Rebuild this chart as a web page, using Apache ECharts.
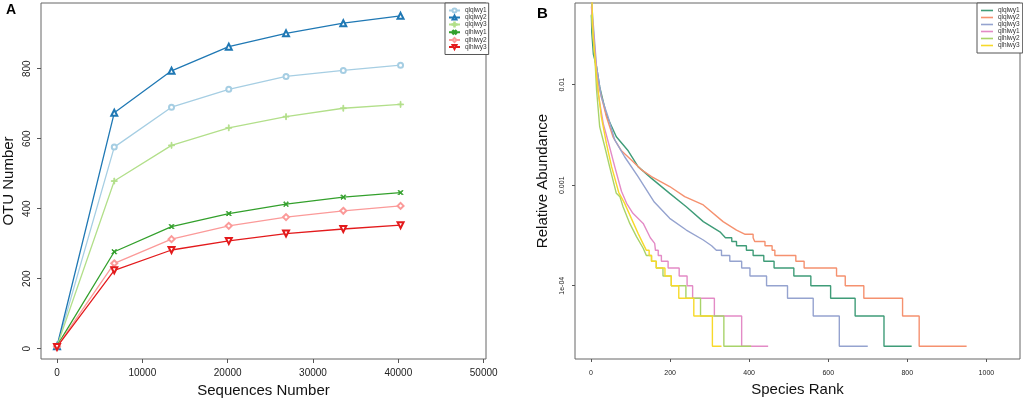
<!DOCTYPE html>
<html>
<head>
<meta charset="utf-8">
<script src="https://cdn.jsdelivr.net/npm/echarts@6/dist/echarts.min.js"></script>
<style>
  html, body { margin: 0; padding: 0; background: #fff; }
  #chart { width: 1023px; height: 399px; }
</style>
</head>
<body>
<div id="chart"></div>
<script>
// ---- panel A: rarefaction curves ----
const sampleNames = ['qlqlwy1', 'qlqlwy2', 'qlqlwy3', 'qlhlwy1', 'qlhlwy2', 'qlhlwy3'];
const seqDepth = [0, 6710, 13420, 20130, 26840, 33550, 40260];
const otuQlqlwy1 = [6, 576, 690, 741, 778, 795, 810];
const otuQlqlwy2 = [7, 674, 794, 863, 901, 930, 951];
const otuQlqlwy3 = [7, 479, 581, 631, 663, 687, 698];
const otuQlhlwy1 = [8, 277, 349, 386, 413, 433, 446];
const otuQlhlwy2 = [6, 244, 313, 351, 376, 394, 408];
const otuQlhlwy3 = [5, 224, 282, 308, 329, 342, 353];
const seqTicks = [0, 10000, 20000, 30000, 40000, 50000];
const otuTicks = [0, 200, 400, 600, 800];

// ---- panel B: rank abundance (smooth head, then [start rank, level] steps; last pair = end) ----
const headQlqlwy1 = [[1, 0.049], [2, 0.033], [6, 0.02], [14, 0.0151], [22, 0.0095], [39, 0.005], [64, 0.00304], [94, 0.0022], [119, 0.00153], [153, 0.00117], [199, 0.00083], [241, 0.00061], [284, 0.000434], [326, 0.000344]];
const stepsQlqlwy1 = [[340, 3e-4], [356, 2.75e-4], [368, 2.5e-4], [393, 2.25e-4], [410, 2e-4], [437, 1.75e-4], [463, 1.5e-4], [513, 1.25e-4], [556, 1e-4], [606, 7.5e-5], [668, 5e-5], [741, 2.5e-5], [811, 2.5e-5]];
const headQlqlwy2 = [[1, 0.09], [3, 0.04], [14, 0.013], [22, 0.0089], [39, 0.0048], [56, 0.003], [77, 0.0022], [102, 0.00178], [128, 0.00142], [153, 0.00122], [199, 0.00097], [237, 0.00077], [284, 0.000636], [334, 0.000434], [368, 0.000358]];
const stepsQlqlwy2 = [[390, 3.25e-4], [410, 3e-4], [414, 2.75e-4], [440, 2.5e-4], [458, 2.25e-4], [465, 2e-4], [518, 1.75e-4], [539, 1.5e-4], [621, 1.25e-4], [643, 1e-4], [690, 7.5e-5], [788, 5e-5], [830, 2.5e-5], [950, 2.5e-5]];
const headQlqlwy3 = [[1, 0.07], [14, 0.0151], [26, 0.0076], [43, 0.0048], [60, 0.00282], [85, 0.00192], [119, 0.00122], [160, 0.00068], [199, 0.000468], [241, 0.000358], [284, 0.000285], [305, 0.00025]];
const stepsQlqlwy3 = [[317, 2.25e-4], [330, 2e-4], [351, 1.75e-4], [381, 1.5e-4], [402, 1.25e-4], [444, 1e-4], [497, 7.5e-5], [562, 5e-5], [628, 2.5e-5], [700, 2.5e-5]];
const headQlhlwy1 = [[1, 0.06], [14, 0.0135], [18, 0.0082], [31, 0.0041], [47, 0.0024], [60, 0.00153], [77, 0.00087], [90, 0.00066], [106, 0.000525], [132, 0.000417], [150, 0.0003], [161, 0.000264]];
const stepsQlhlwy1 = [[163, 2.25e-4], [170, 2e-4], [178, 1.75e-4], [195, 1.5e-4], [223, 1.25e-4], [243, 1e-4], [257, 7.5e-5], [312, 5e-5], [381, 2.5e-5], [448, 2.5e-5]];
const headQlhlwy2 = [[1, 0.05], [11, 0.0151], [14, 0.0089], [22, 0.0038], [35, 0.0024], [47, 0.00153], [64, 0.00083], [73, 0.00077], [81, 0.00061], [98, 0.000417], [115, 0.000308], [132, 0.000236]];
const stepsQlhlwy2 = [[140, 2e-4], [153, 1.75e-4], [165, 1.5e-4], [182, 1.25e-4], [203, 1e-4], [240, 7.5e-5], [277, 5e-5], [336, 2.5e-5], [405, 2.5e-5]];
const headQlhlwy3 = [[1, 0.1], [5, 0.032], [14, 0.012], [26, 0.0048], [39, 0.0026], [52, 0.00153], [70, 0.00085], [85, 0.00066], [102, 0.000468], [119, 0.000332], [130, 0.00027]];
const stepsQlhlwy3 = [[140, 2.25e-4], [147, 2e-4], [153, 1.75e-4], [165, 1.5e-4], [187, 1.25e-4], [203, 1e-4], [222, 7.5e-5], [260, 5e-5], [307, 2.5e-5], [330, 2.5e-5]];
const rankTicks = [0, 200, 400, 600, 800, 1000];
const abundTicks = [0.0001, 0.001, 0.01];
const abundTickLabels = ['1e-04', '0.001', '0.01'];

const FONT = 'Liberation Sans, Arial, Helvetica, sans-serif';
const pairedColors = ['#A6CEE3', '#1F78B4', '#B2DF8A', '#33A02C', '#FB9A99', '#E31A1C'];
const set2Colors = ['#3f9c78', '#f5916f', '#95a3cf', '#e38bc6', '#a8d36a', '#f7d92a'];
const plusPath = 'path://M0,4.3h10v1.4h-10zM4.3,0h1.4v10h-1.4z';
const symbols = ['emptyCircle', 'emptyTriangle', plusPath, plusPath, 'emptyDiamond', 'emptyTriangle'];
const symbolRot = [0, 0, 0, 45, 0, 180];
const symbolSizes = [5, 6, 6, 6, 6, 6];

function rankCurve(head, steps) {
  const pts = head.slice();
  for (let i = 0; i < steps.length - 1; i++) {
    pts.push([steps[i][0], steps[i][1]]);
    pts.push([steps[i + 1][0], steps[i][1]]);
  }
  return pts;
}

const otuLists = [otuQlqlwy1, otuQlqlwy2, otuQlqlwy3, otuQlhlwy1, otuQlhlwy2, otuQlhlwy3];
const rankLists = [
  rankCurve(headQlqlwy1, stepsQlqlwy1),
  rankCurve(headQlqlwy2, stepsQlqlwy2),
  rankCurve(headQlqlwy3, stepsQlqlwy3),
  rankCurve(headQlhlwy1, stepsQlhlwy1),
  rankCurve(headQlhlwy2, stepsQlhlwy2),
  rankCurve(headQlhlwy3, stepsQlhlwy3)
];

const seriesA = sampleNames.map((name, i) => ({
  name: name,
  type: 'line',
  xAxisIndex: 0,
  yAxisIndex: 0,
  data: seqDepth.map((d, j) => [d, otuLists[i][j]]),
  symbol: symbols[i],
  symbolRotate: symbolRot[i],
  symbolSize: symbolSizes[i],
  showSymbol: true,
  lineStyle: { color: pairedColors[i], width: 1.3 },
  itemStyle: { color: pairedColors[i], borderColor: pairedColors[i], borderWidth: 0.9 },
  emphasis: { disabled: true },
  animation: false
}));

const seriesB = sampleNames.map((name, i) => ({
  name: 'B-' + name,
  type: 'line',
  xAxisIndex: 1,
  yAxisIndex: 1,
  data: rankLists[i],
  symbol: 'none',
  lineStyle: { color: set2Colors[i], width: 1.4 },
  itemStyle: { color: set2Colors[i] },
  emphasis: { disabled: true },
  animation: false
}));

const tickStyle = { lineStyle: { color: '#555', width: 1 } };
const hiddenLine = { show: false, onZero: false };

const chart = echarts.init(document.getElementById('chart'));
chart.setOption({
  animation: false,
  backgroundColor: '#fff',
  graphic: [
    { type: 'text', left: 6, top: 3, style: { text: 'A', font: 'bold 14px ' + FONT, fill: '#000' } },
    { type: 'text', left: 537, top: 6, style: { text: 'B', font: 'bold 15px ' + FONT, fill: '#000' } }
  ],
  grid: [
    { left: 41, top: 3, width: 445, height: 356, outerBoundsMode: 'none', containLabel: false, show: true, borderColor: '#666', borderWidth: 1 },
    { left: 575, top: 3, width: 445, height: 356, outerBoundsMode: 'none', containLabel: false, show: true, borderColor: '#666', borderWidth: 1 }
  ],
  legend: [
    {
      data: sampleNames, orient: 'vertical', left: 445, top: 3,
      padding: [4, 2, 4, 3], itemGap: 0, itemWidth: 11, itemHeight: 5,
      borderColor: '#555', borderWidth: 1, backgroundColor: '#fff',
      textStyle: { fontSize: 6.5, lineHeight: 7, color: '#333', fontFamily: FONT }
    },
    {
      data: seriesB.map(s => s.name), orient: 'vertical', left: 977, top: 3,
      icon: 'rect', padding: [4, 3, 4, 4], itemGap: 0, itemWidth: 12, itemHeight: 1.6,
      borderColor: '#555', borderWidth: 1, backgroundColor: '#fff',
      formatter: n => n.replace('B-', ''),
      textStyle: { fontSize: 6.5, lineHeight: 7, color: '#333', fontFamily: FONT }
    }
  ],
  xAxis: [
    {
      gridIndex: 0, type: 'value', min: -1875, max: 50273,
      axisLine: hiddenLine, splitLine: { show: false },
      axisTick: Object.assign({ customValues: seqTicks, length: 4 }, tickStyle),
      axisLabel: { customValues: seqTicks, formatter: v => String(v), fontSize: 10, color: '#222', margin: 9, fontFamily: FONT },
      name: 'Sequences Number', nameLocation: 'middle', nameGap: 21,
      nameTextStyle: { fontSize: 15, color: '#111', fontFamily: FONT }
    },
    {
      gridIndex: 1, type: 'value', min: -40.5, max: 1085,
      axisLine: hiddenLine, splitLine: { show: false },
      axisTick: Object.assign({ customValues: rankTicks, length: 3 }, tickStyle),
      axisLabel: { customValues: rankTicks, formatter: v => String(v), fontSize: 7, color: '#222', margin: 11, fontFamily: FONT },
      name: 'Species Rank', nameLocation: 'middle', nameGap: 22,
      nameTextStyle: { fontSize: 15, color: '#111', fontFamily: FONT }
    }
  ],
  yAxis: [
    {
      gridIndex: 0, type: 'value', min: -29.4, max: 987.7,
      axisLine: hiddenLine, splitLine: { show: false },
      axisTick: Object.assign({ customValues: otuTicks, length: 4 }, tickStyle),
      axisLabel: { customValues: otuTicks, rotate: 90, fontSize: 10, color: '#222', margin: 9, fontFamily: FONT },
      name: 'OTU Number', nameLocation: 'middle', nameGap: 25,
      nameTextStyle: { fontSize: 15, color: '#111', fontFamily: FONT }
    },
    {
      gridIndex: 1, type: 'log', logBase: 10, min: 1.866e-5, max: 0.065,
      axisLine: hiddenLine, splitLine: { show: false },
      axisTick: Object.assign({ length: 3 }, tickStyle),
      axisLabel: {
        rotate: 90, fontSize: 7, color: '#222', margin: 9, fontFamily: FONT,
        showMinLabel: false, showMaxLabel: false,
        formatter: v => {
          const k = abundTicks.findIndex(t => Math.abs(Math.log10(v) - Math.log10(t)) < 0.01);
          return k < 0 ? '' : abundTickLabels[k];
        }
      },
      name: 'Relative Abundance', nameLocation: 'middle', nameGap: 25,
      nameTextStyle: { fontSize: 15, color: '#111', fontFamily: FONT }
    }
  ],
  series: seriesA.concat(seriesB)
});
</script>
</body>
</html>
